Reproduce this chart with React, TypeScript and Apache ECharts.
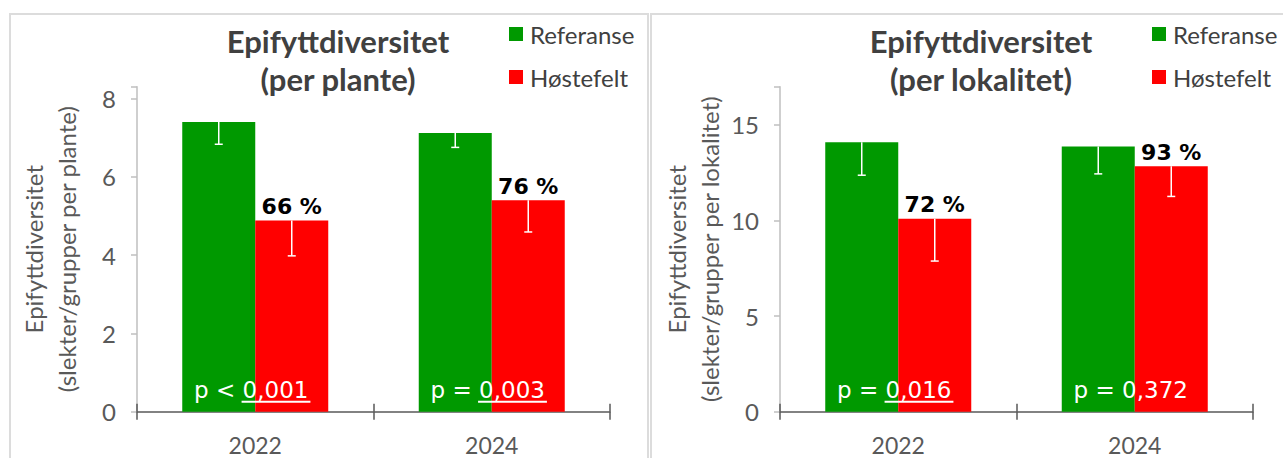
import React, { useEffect, useRef } from "react";
import * as echarts from "echarts";

// Years on the category axis
const years = ["2022", "2024"];

// Epiphyte diversity per plant (means and lower error-bar ends)
const plantRef = [7.4, 7.12];
const plantRefLow = [6.83, 6.75];
const plantHost = [4.88, 5.4];
const plantHostLow = [3.98, 4.59];

// Epiphyte diversity per locality (means and lower error-bar ends)
const lokRef = [14.09, 13.87];
const lokRefLow = [12.37, 12.44];
const lokHost = [10.09, 12.84];
const lokHostLow = [7.88, 11.26];

// Test results shown at the foot of each pair of bars
const plantPOp = ["<", "="];
const plantPVal = ["0,001", "0,003"];
const plantPSig = [true, true];
const lokPOp = ["=", "="];
const lokPVal = ["0,016", "0,372"];
const lokPSig = [true, false];

// Axis settings
const plantMax = 8.3;
const plantStep = 2;
const lokMax = 17;
const lokStep = 5;

const seriesNames = ["Referanse", "Høstefelt"];
const GREEN = "#009900";
const RED = "#ff0000";
const BAR_W = 73;
const CAP = 4;

const FONT_UI = 'Lato, "Open Sans", sans-serif';
const FONT_NUM = '"DejaVu Sans", Verdana, sans-serif';
const P_SIZE = 23;

let measureCtx: CanvasRenderingContext2D | null = null;
function textWidth(text: string, font: string): number {
  if (!measureCtx) {
    measureCtx = document.createElement("canvas").getContext("2d");
  }
  if (!measureCtx) return text.length * 12;
  measureCtx.font = font;
  return measureCtx.measureText(text).width;
}

function errorData(ref: number[], refLow: number[], host: number[], hostLow: number[]) {
  const rows: number[][] = [];
  ref.forEach((v, i) => rows.push([i, v, refLow[i], -1]));
  host.forEach((v, i) => rows.push([i, v, hostLow[i], 1]));
  return rows;
}

function errorRender(_params: any, api: any) {
  const x = api.value(0);
  const top = api.coord([x, api.value(1)]);
  const bot = api.coord([x, api.value(2)]);
  const cx = top[0] + (api.value(3) * BAR_W) / 2;
  const style = { stroke: "#ffffff", lineWidth: 1.5 };
  return {
    type: "group",
    children: [
      { type: "line", shape: { x1: cx, y1: top[1], x2: cx, y2: bot[1] }, style },
      { type: "line", shape: { x1: cx - CAP, y1: bot[1], x2: cx + CAP, y2: bot[1] }, style },
    ],
  };
}

function pRender(ops: string[], vals: string[], sig: boolean[]) {
  return (params: any, api: any) => {
    const i = params.dataIndex;
    const base = api.coord([api.value(0), 0]);
    const font = `${P_SIZE}px ${FONT_NUM}`;
    const prefix = `p ${ops[i]} `;
    const full = prefix + vals[i];
    const fullW = textWidth(full, font);
    const preW = textWidth(prefix, font);
    const numW = textWidth(vals[i], font);
    const cx = base[0] - 4;
    const startX = cx - fullW / 2;
    const children: any[] = [
      {
        type: "text",
        x: startX,
        y: base[1] - 22,
        style: {
          text: full,
          fill: "#ffffff",
          font,
          textAlign: "left",
          textVerticalAlign: "middle",
        },
      },
    ];
    if (sig[i]) {
      children.push({
        type: "line",
        shape: {
          x1: startX + preW - 1,
          y1: base[1] - 10,
          x2: startX + preW + numW + 2,
          y2: base[1] - 10,
        },
        style: { stroke: "#ffffff", lineWidth: 2 },
      });
    }
    return { type: "group", children };
  };
}

function pctLabels(ref: number[], host: number[]) {
  return host.map((v, i) => `${Math.round((v / ref[i]) * 100)} %`);
}

function xAxes(gridIndex: number) {
  const base = {
    type: "category",
    gridIndex,
    data: years,
    position: "bottom",
    boundaryGap: true,
  };
  return [
    {
      ...base,
      axisLine: { show: true, lineStyle: { color: "#595959", width: 1.5 } },
      axisTick: { show: true, length: 8, lineStyle: { color: "#595959", width: 1.5 } },
      axisLabel: { fontFamily: FONT_UI, fontSize: 23, color: "#595959", margin: 22 },
    },
    {
      ...base,
      axisLine: { show: false },
      axisTick: { show: true, inside: true, length: 8, lineStyle: { color: "#595959", width: 1.5 } },
      axisLabel: { show: false },
    },
  ];
}

function yAxis(gridIndex: number, max: number, step: number, name: string) {
  return {
    type: "value",
    gridIndex,
    min: 0,
    max,
    interval: step,
    name,
    nameLocation: "middle",
    nameGap: 54,
    nameTextStyle: { fontFamily: FONT_UI, fontSize: 24, color: "#595959", lineHeight: 33 },
    axisLine: { show: true, lineStyle: { color: "#bfbfbf", width: 1.5 } },
    axisTick: { show: true, length: 6, lineStyle: { color: "#bfbfbf", width: 1.5 } },
    axisLabel: {
      fontFamily: FONT_UI,
      fontSize: 24,
      color: "#595959",
      margin: 21,
      formatter: (v: number) => (v % step === 0 ? String(v) : ""),
    },
    splitLine: { show: false },
  };
}

function panelSeries(
  xIdx: number,
  yIdx: number,
  ref: number[],
  refLow: number[],
  host: number[],
  hostLow: number[],
  ops: string[],
  vals: string[],
  sig: boolean[]
) {
  const pct = pctLabels(ref, host);
  return [
    {
      type: "bar",
      name: seriesNames[0],
      xAxisIndex: xIdx,
      yAxisIndex: yIdx,
      data: ref,
      barWidth: BAR_W,
      barGap: "0%",
      itemStyle: { color: GREEN },
    },
    {
      type: "bar",
      name: seriesNames[1],
      xAxisIndex: xIdx,
      yAxisIndex: yIdx,
      data: host,
      barWidth: BAR_W,
      barGap: "0%",
      itemStyle: { color: RED },
      label: {
        show: true,
        position: "top",
        distance: 3,
        formatter: (p: any) => pct[p.dataIndex],
        fontFamily: FONT_NUM,
        fontWeight: "bold",
        fontSize: 22,
        color: "#000000",
      },
    },
    {
      type: "custom",
      xAxisIndex: xIdx,
      yAxisIndex: yIdx,
      z: 5,
      encode: { x: 0, y: 1 },
      data: errorData(ref, refLow, host, hostLow),
      renderItem: errorRender,
    },
    {
      type: "custom",
      xAxisIndex: xIdx,
      yAxisIndex: yIdx,
      z: 6,
      encode: { x: 0 },
      data: years.map((_, i) => [i]),
      renderItem: pRender(ops, vals, sig),
    },
  ];
}

function legend(left: number) {
  return {
    left,
    top: 22,
    padding: 0,
    orient: "vertical",
    icon: "rect",
    itemWidth: 14,
    itemHeight: 14,
    itemGap: 19,
    selectedMode: false,
    data: seriesNames,
    textStyle: { fontFamily: FONT_UI, fontSize: 24, color: "#404040", padding: [0, 0, 0, 2] },
  };
}

function titleText(cx: number, text: string) {
  return {
    type: "text",
    x: cx,
    y: 22,
    silent: true,
    style: {
      text,
      fill: "#404040",
      font: `bold 31px ${FONT_UI}`,
      textAlign: "center",
      lineHeight: 38,
    },
  };
}

export default function App() {
  const ref = useRef<HTMLDivElement>(null);

  useEffect(() => {
    if (!ref.current) return;
    const chart = echarts.init(ref.current, null, { renderer: "svg" });
    const option: any = {
      animation: false,
      backgroundColor: "#ffffff",
      grid: [
        { left: 137, top: 86.7, width: 473, height: 325 },
        { left: 780, top: 86.7, width: 473, height: 325 },
      ],
      xAxis: [...xAxes(0), ...xAxes(1)],
      yAxis: [
        yAxis(0, plantMax, plantStep, "Epifyttdiversitet\n(slekter/grupper per plante)"),
        yAxis(1, lokMax, lokStep, "Epifyttdiversitet\n(slekter/grupper per lokalitet)"),
      ],
      legend: [legend(509), legend(1152)],
      graphic: [
        {
          type: "rect",
          silent: true,
          shape: { x: 10, y: 14, width: 638, height: 480 },
          style: { fill: "none", stroke: "#dcdcdc", lineWidth: 2 },
        },
        {
          type: "rect",
          silent: true,
          shape: { x: 651, y: 14, width: 660, height: 480 },
          style: { fill: "none", stroke: "#dcdcdc", lineWidth: 2 },
        },
        titleText(338, "Epifyttdiversitet\n(per plante)"),
        titleText(981, "Epifyttdiversitet\n(per lokalitet)"),
      ],
      series: [
        ...panelSeries(0, 0, plantRef, plantRefLow, plantHost, plantHostLow, plantPOp, plantPVal, plantPSig),
        ...panelSeries(2, 1, lokRef, lokRefLow, lokHost, lokHostLow, lokPOp, lokPVal, lokPSig),
      ],
    };
    chart.setOption(option);
    return () => chart.dispose();
  }, []);

  return (
    <div
      ref={ref}
      style={{ position: "fixed", left: 0, top: 0, width: 1283, height: 458 }}
    />
  );
}
